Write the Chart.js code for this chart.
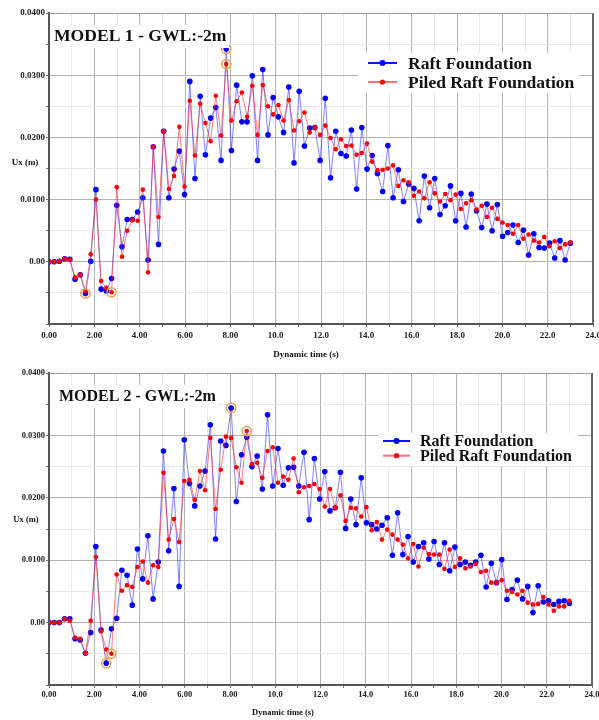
<!DOCTYPE html>
<html>
<head>
<meta charset="utf-8">
<script src="https://cdn.jsdelivr.net/npm/chart.js@4.4.1/dist/chart.umd.min.js"></script>
<style>
  html, body { margin: 0; padding: 0; background: #fff; overflow: hidden; width: 599px; height: 720px; }
  .panel { position: absolute; left: 0; }
</style>
</head>
<body>
<div class="panel" style="top:0;width:610px;height:362px"><canvas id="model1" width="610" height="362" style="width:610px;height:362px"></canvas></div>
<div class="panel" style="top:362px;width:610px;height:358px"><canvas id="model2" width="610" height="358" style="width:610px;height:358px"></canvas></div>
<script>
// Dynamic time of each recorded step (s)
const times = [
  0.00, 0.23, 0.46, 0.69, 0.92, 1.15, 1.38, 1.61, 1.84, 2.07,
  2.30, 2.53, 2.76, 2.99, 3.22, 3.45, 3.68, 3.91, 4.14, 4.37,
  4.60, 4.83, 5.06, 5.29, 5.52, 5.75, 5.98, 6.21, 6.44, 6.67,
  6.90, 7.13, 7.36, 7.59, 7.82, 8.05, 8.28, 8.51, 8.74, 8.97,
  9.20, 9.43, 9.66, 9.89, 10.12, 10.35, 10.58, 10.81, 11.04, 11.27,
  11.50, 11.73, 11.96, 12.19, 12.42, 12.65, 12.88, 13.11, 13.34, 13.57,
  13.80, 14.03, 14.26, 14.49, 14.72, 14.95, 15.18, 15.41, 15.64, 15.87,
  16.10, 16.33, 16.56, 16.79, 17.02, 17.25, 17.48, 17.71, 17.94, 18.17,
  18.40, 18.63, 18.86, 19.09, 19.32, 19.55, 19.78, 20.01, 20.24, 20.47,
  20.70, 20.93, 21.16, 21.39, 21.62, 21.85, 22.08, 22.31, 22.54, 22.77,
  23.00
];

// Model 1 - horizontal displacement Ux (m)
const raftModel1 = [
  0.0000, 0.0000, 0.0001, 0.0005, 0.0004, -0.0028, -0.0021, -0.0051, 0.0001, 0.0116,
  -0.0044, -0.0047, -0.0027, 0.0091, 0.0024, 0.0068, 0.0068, 0.0080, 0.0103, 0.0003,
  0.0185, 0.0028, 0.0210, 0.0103, 0.0149, 0.0178, 0.0108, 0.0290, 0.0134, 0.0266,
  0.0172, 0.0231, 0.0248, 0.0163, 0.0342, 0.0179, 0.0284, 0.0225, 0.0225, 0.0299,
  0.0163, 0.0309, 0.0204, 0.0264, 0.0233, 0.0208, 0.0281, 0.0159, 0.0274, 0.0186,
  0.0215, 0.0216, 0.0163, 0.0263, 0.0135, 0.0210, 0.0174, 0.0170, 0.0212, 0.0117,
  0.0216, 0.0149, 0.0171, 0.0142, 0.0113, 0.0187, 0.0103, 0.0148, 0.0097, 0.0125,
  0.0118, 0.0066, 0.0138, 0.0087, 0.0134, 0.0076, 0.0090, 0.0122, 0.0066, 0.0110,
  0.0056, 0.0109, 0.0082, 0.0055, 0.0093, 0.0050, 0.0092, 0.0041, 0.0047, 0.0059,
  0.0031, 0.0051, 0.0011, 0.0045, 0.0023, 0.0022, 0.0030, 0.0006, 0.0034, 0.0003,
  0.0030
];
const piledModel1 = [
  0.0000, 0.0000, 0.0001, 0.0005, 0.0003, -0.0025, -0.0021, -0.0047, 0.0012, 0.0100,
  -0.0031, -0.0042, -0.0049, 0.0120, 0.0008, 0.0050, 0.0067, 0.0066, 0.0116, -0.0017,
  0.0185, 0.0072, 0.0210, 0.0117, 0.0138, 0.0217, 0.0121, 0.0259, 0.0171, 0.0254,
  0.0223, 0.0194, 0.0267, 0.0203, 0.0318, 0.0227, 0.0258, 0.0272, 0.0233, 0.0283,
  0.0204, 0.0284, 0.0250, 0.0237, 0.0252, 0.0227, 0.0260, 0.0211, 0.0226, 0.0240,
  0.0208, 0.0216, 0.0204, 0.0219, 0.0199, 0.0181, 0.0197, 0.0186, 0.0187, 0.0172,
  0.0175, 0.0190, 0.0161, 0.0147, 0.0148, 0.0150, 0.0155, 0.0122, 0.0131, 0.0128,
  0.0106, 0.0113, 0.0102, 0.0128, 0.0110, 0.0097, 0.0109, 0.0099, 0.0108, 0.0085,
  0.0094, 0.0099, 0.0084, 0.0090, 0.0072, 0.0087, 0.0069, 0.0063, 0.0059, 0.0045,
  0.0059, 0.0037, 0.0044, 0.0034, 0.0031, 0.0040, 0.0025, 0.0033, 0.0022, 0.0028,
  0.0031
];

// Model 2 - horizontal displacement Ux (m)
const raftModel2 = [
  0.0000, 0.0000, 0.0000, 0.0006, 0.0006, -0.0026, -0.0028, -0.0049, -0.0016, 0.0122,
  -0.0012, -0.0065, -0.0010, 0.0007, 0.0084, 0.0076, 0.0028, 0.0118, 0.0070, 0.0139,
  0.0038, 0.0097, 0.0275, 0.0115, 0.0215, 0.0058, 0.0293, 0.0223, 0.0187, 0.0219,
  0.0243, 0.0317, 0.0134, 0.0291, 0.0284, 0.0344, 0.0194, 0.0269, 0.0297, 0.0250,
  0.0267, 0.0214, 0.0333, 0.0219, 0.0279, 0.0220, 0.0248, 0.0249, 0.0219, 0.0273,
  0.0165, 0.0263, 0.0198, 0.0242, 0.0179, 0.0184, 0.0241, 0.0151, 0.0198, 0.0157,
  0.0232, 0.0160, 0.0157, 0.0150, 0.0156, 0.0168, 0.0108, 0.0176, 0.0109, 0.0138,
  0.0097, 0.0122, 0.0128, 0.0102, 0.0130, 0.0093, 0.0128, 0.0083, 0.0121, 0.0093,
  0.0097, 0.0092, 0.0097, 0.0108, 0.0057, 0.0095, 0.0064, 0.0101, 0.0037, 0.0053,
  0.0068, 0.0038, 0.0058, 0.0016, 0.0059, 0.0033, 0.0035, 0.0029, 0.0034, 0.0035,
  0.0031
];
const piledModel2 = [
  0.0000, 0.0000, 0.0000, 0.0006, 0.0003, -0.0024, -0.0026, -0.0049, 0.0003, 0.0105,
  -0.0014, -0.0043, -0.0050, 0.0077, 0.0051, 0.0060, 0.0057, 0.0089, 0.0098, 0.0064,
  0.0092, 0.0089, 0.0240, 0.0133, 0.0166, 0.0129, 0.0227, 0.0229, 0.0197, 0.0243,
  0.0212, 0.0296, 0.0182, 0.0245, 0.0298, 0.0296, 0.0249, 0.0224, 0.0307, 0.0254,
  0.0256, 0.0232, 0.0275, 0.0281, 0.0224, 0.0234, 0.0229, 0.0263, 0.0209, 0.0217,
  0.0219, 0.0222, 0.0214, 0.0186, 0.0214, 0.0184, 0.0204, 0.0163, 0.0184, 0.0183,
  0.0170, 0.0185, 0.0148, 0.0161, 0.0133, 0.0149, 0.0141, 0.0133, 0.0125, 0.0103,
  0.0126, 0.0090, 0.0120, 0.0110, 0.0109, 0.0109, 0.0086, 0.0117, 0.0089, 0.0103,
  0.0087, 0.0090, 0.0094, 0.0081, 0.0083, 0.0064, 0.0064, 0.0068, 0.0051, 0.0049,
  0.0045, 0.0051, 0.0032, 0.0029, 0.0030, 0.0041, 0.0029, 0.0019, 0.0026, 0.0026,
  0.0035
];

const seriesNames = ['Raft Foundation', 'Piled Raft Foundation'];
const panelTitles = ['MODEL 1 - GWL:-2m', 'MODEL 2 - GWL:-2m'];
const axisTitles = { x: 'Dynamic time (s)', y: 'Ux (m)' };

const SERIF = '"Liberation Serif", "Times New Roman", serif';
const RAFT_LINE = 'rgba(30, 30, 255, 0.55)';
const RAFT_DOT = '#0000ff';
const PILED_LINE = 'rgba(255, 40, 40, 0.6)';
const PILED_DOT = '#ff0000';
const RING = '#f0a048';

function pairs(xs, ys) { return xs.map((x, i) => ({ x: x, y: ys[i] })); }

// Lowest and highest sample of a series, ringed on the plot
function extremes(xs, ys) {
  let lo = 0, hi = 0;
  ys.forEach((v, i) => { if (v < ys[lo]) lo = i; if (v > ys[hi]) hi = i; });
  return [{ x: xs[lo], y: ys[lo] }, { x: xs[hi], y: ys[hi] }];
}

function fmtTime(v) {
  const r = Math.round(v);
  if (r % 2 !== 0) return '';
  return r < 10 ? r.toFixed(2) : r.toFixed(1);
}
function fmtUx(v) {
  const k = Math.round(v * 1000);
  if (k % 10 !== 0 || k < 0) return '';
  return k === 0 ? '0.00' : (k / 1000).toFixed(4);
}
const isMajorX = v => Math.round(v) % 2 === 0;
const isMajorY = v => Math.round(v * 1000) % 10 === 0;

// Title box, legend box, frame edge and axis captions
function decor(L) {
  return {
    id: 'decor',
    afterDatasetsDraw(chart) {
      const ctx = chart.ctx, a = chart.chartArea;
      ctx.save();
      // right frame edge
      ctx.strokeStyle = '#666';
      ctx.lineWidth = 2;
      ctx.beginPath(); ctx.moveTo(a.right, a.top); ctx.lineTo(a.right, a.bottom); ctx.stroke();
      ctx.strokeStyle = '#999';
      ctx.lineWidth = 1;
      ctx.beginPath(); ctx.moveTo(a.left, a.top + 0.5); ctx.lineTo(a.right, a.top + 0.5); ctx.stroke();

      // panel title
      const T = L.title;
      ctx.fillStyle = '#fff';
      ctx.fillRect(T.box[0], T.box[1], T.box[2], T.box[3]);
      ctx.fillStyle = '#111';
      ctx.font = 'bold ' + T.size + 'px ' + SERIF;
      ctx.textAlign = 'left';
      ctx.textBaseline = 'middle';
      ctx.fillText(T.text, T.x, T.y);

      // legend
      const G = L.legend;
      ctx.fillStyle = '#fff';
      ctx.fillRect(G.box[0], G.box[1], G.box[2], G.box[3]);
      const entries = [
        { name: seriesNames[0], line: '#1010ff', dot: RAFT_DOT, r: 3 },
        { name: seriesNames[1], line: '#ff7070', dot: PILED_DOT, r: 2.6 }
      ];
      entries.forEach((e, i) => {
        const y = G.y0 + i * G.dy;
        ctx.strokeStyle = e.line;
        ctx.lineWidth = 2;
        ctx.beginPath(); ctx.moveTo(G.x0, y); ctx.lineTo(G.x1, y); ctx.stroke();
        ctx.fillStyle = e.dot;
        ctx.beginPath(); ctx.arc((G.x0 + G.x1) / 2, y, e.r, 0, Math.PI * 2); ctx.fill();
        ctx.fillStyle = '#111';
        ctx.font = 'bold ' + G.size + 'px ' + SERIF;
        ctx.textAlign = 'left';
        ctx.textBaseline = 'middle';
        ctx.fillText(e.name, G.tx, y + 1);
      });

      // axis captions
      ctx.fillStyle = '#111';
      ctx.font = 'bold ' + L.capSize + 'px ' + SERIF;
      ctx.textAlign = 'center';
      ctx.textBaseline = 'middle';
      ctx.fillText(axisTitles.y, L.yCap[0], L.yCap[1]);
      ctx.fillText(axisTitles.x, L.xCap[0], L.xCap[1]);
      ctx.restore();
    }
  };
}

function buildPanel(id, raft, piled, L) {
  return new Chart(document.getElementById(id), {
    type: 'line',
    data: {
      datasets: [
        {
          label: seriesNames[0], data: pairs(times, raft), order: 2,
          borderColor: RAFT_LINE, borderWidth: 1, tension: 0,
          pointRadius: 2.8, pointHoverRadius: 2.8, pointBorderWidth: 0,
          pointBackgroundColor: RAFT_DOT
        },
        {
          label: seriesNames[1], data: pairs(times, piled), order: 1,
          borderColor: PILED_LINE, borderWidth: 1, tension: 0,
          pointRadius: 2.3, pointHoverRadius: 2.3, pointBorderWidth: 0,
          pointBackgroundColor: PILED_DOT
        },
        {
          label: 'extremes', data: extremes(times, raft).concat(extremes(times, piled)), order: 0,
          showLine: false, pointRadius: 4.6, pointHoverRadius: 4.6,
          pointBorderColor: RING, pointBorderWidth: 1.5, pointBackgroundColor: 'rgba(0,0,0,0)'
        }
      ]
    },
    options: {
      responsive: false,
      animation: false,
      events: [],
      layout: { padding: { left: 0, top: L.padTop, right: L.padRight, bottom: 0 } },
      plugins: { legend: { display: false }, tooltip: { enabled: false } },
      scales: {
        x: {
          type: 'linear', min: 0, max: 24,
          afterFit: s => { s.height = L.xAxisH; },
          ticks: {
            stepSize: 1, autoSkip: false, maxRotation: 0, minRotation: 0, padding: L.xTickPad,
            color: '#1a1a1a', font: { family: SERIF, weight: 'bold', size: L.tickSize },
            callback: v => fmtTime(v)
          },
          grid: {
            color: c => (c.tick && isMajorX(c.tick.value)) ? '#b2b2b2' : '#e8e8e8',
            lineWidth: 1, tickLength: 3, tickColor: '#777'
          },
          border: { color: '#555', width: 2 }
        },
        y: {
          type: 'linear', min: -0.01, max: 0.04,
          afterFit: s => { s.width = 49; },
          ticks: {
            stepSize: 0.005, autoSkip: false, padding: 1,
            color: '#1a1a1a', font: { family: SERIF, weight: 'bold', size: L.tickSize },
            callback: v => fmtUx(v)
          },
          grid: {
            color: c => (c.tick && isMajorY(c.tick.value)) ? '#b2b2b2' : '#e8e8e8',
            lineWidth: 1, tickLength: 3, tickColor: '#777'
          },
          border: { color: '#555', width: 2 }
        }
      }
    },
    plugins: [decor(L)]
  });
}

buildPanel('model1', raftModel1, piledModel1, {
  padTop: 13, padRight: 17, xAxisH: 38, xTickPad: 3, tickSize: 9, capSize: 9,
  title: { text: panelTitles[0], x: 54, y: 36, size: 17.6, box: [51, 25, 178, 23] },
  legend: { box: [358, 53, 221, 40], x0: 368, x1: 397, y0: 63, dy: 19, tx: 408, size: 17.5 },
  yCap: [25, 163], xCap: [306, 355]
});

buildPanel('model2', raftModel2, piledModel2, {
  padTop: 11, padRight: 18, xAxisH: 35, xTickPad: 2, tickSize: 8.5, capSize: 8.5,
  title: { text: panelTitles[1], x: 59, y: 35, size: 16, box: [52, 23, 166, 23] },
  legend: { box: [378, 71, 200, 33], x0: 383, x1: 410, y0: 79, dy: 14.7, tx: 420, size: 16 },
  yCap: [26, 158], xCap: [283, 351]
});
</script>
</body>
</html>
